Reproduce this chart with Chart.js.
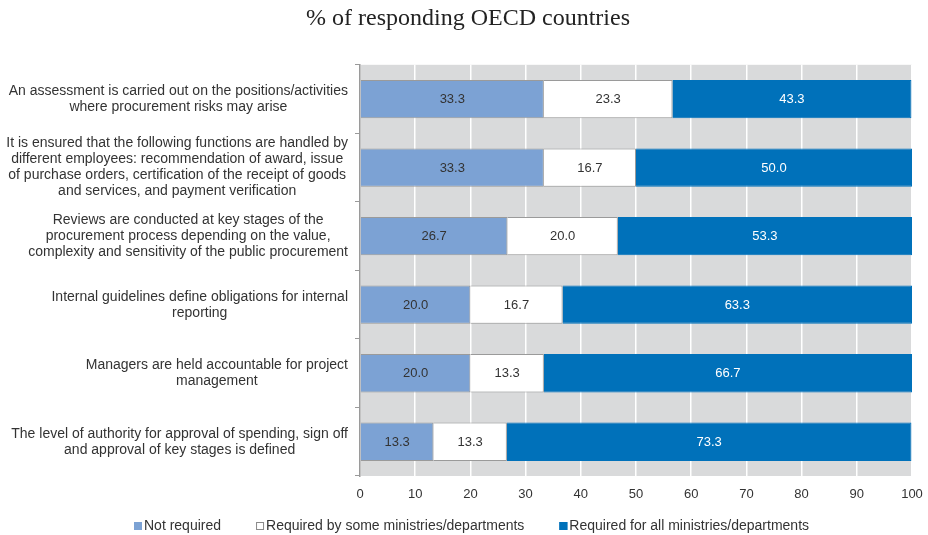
<!DOCTYPE html>
<html>
<head>
<meta charset="utf-8">
<script src="https://cdn.jsdelivr.net/npm/chart.js@4/dist/chart.umd.min.js"></script>
<style>
  html, body { margin: 0; padding: 0; background: #ffffff; }
  #wrap { width: 928px; height: 535px; }
</style>
</head>
<body>
<div id="wrap"><canvas id="c" width="928" height="535"></canvas></div>
<script>
// Survey items (one array of lines per item)
const categories = [
  ["An assessment is carried out on the positions/activities", "where procurement risks may arise"],
  ["It is ensured that the following functions are handled by", "different employees: recommendation of award, issue", "of purchase orders, certification of the receipt of goods", "and services, and payment verification"],
  ["Reviews are conducted at key stages of the", "procurement process depending on the value,", "complexity and sensitivity of the public procurement"],
  ["Internal guidelines define obligations for internal", "reporting"],
  ["Managers are held accountable for project", "management"],
  ["The level of authority for approval of spending, sign off", "and approval of key stages is defined"]
];

const seriesNames = [
  "Not required",
  "Required by some ministries/departments",
  "Required for all ministries/departments"
];

// % of responding OECD countries
const notRequired  = [33.3, 33.3, 26.7, 20.0, 20.0, 13.3];
const someRequired = [23.3, 16.7, 20.0, 16.7, 13.3, 13.3];
const allRequired  = [43.3, 50.0, 53.3, 63.3, 66.7, 73.3];

const xMin = 0, xMax = 100, xStep = 10;

const FONT = "'Liberation Sans', Arial, sans-serif";
const TEXT = "#333333";

// Grey plotting area behind the bars
const plotBackground = {
  id: 'plotBackground',
  beforeDraw(chart) {
    const {ctx, chartArea: a} = chart;
    ctx.save();
    ctx.fillStyle = '#d9dadb';
    ctx.fillRect(a.left, a.top, a.right - a.left, a.bottom - a.top);
    ctx.restore();
  }
};

// Value printed in the middle of every bar segment
const barValues = {
  id: 'barValues',
  afterDatasetsDraw(chart) {
    const {ctx} = chart;
    ctx.save();
    ctx.font = '13px ' + FONT;
    ctx.textAlign = 'center';
    ctx.textBaseline = 'middle';
    chart.data.datasets.forEach((ds, di) => {
      const meta = chart.getDatasetMeta(di);
      meta.data.forEach((bar, i) => {
        const v = ds.data[i];
        const p = bar.getProps(['x', 'y', 'base'], true);
        ctx.fillStyle = ds.valueColor;
        ctx.fillText(v.toFixed(1), (p.x + p.base) / 2, p.y + 0.5);
      });
    });
    ctx.restore();
  }
};

// Multi-line item labels: lines centred on each other, block right-aligned to the axis
const itemLabels = {
  id: 'itemLabels',
  afterDraw(chart) {
    const {ctx} = chart;
    const y = chart.scales.y;
    const rightEdge = y.right - 12;
    const lh = 16;
    ctx.save();
    ctx.font = '14px ' + FONT;
    ctx.fillStyle = TEXT;
    ctx.textAlign = 'center';
    ctx.textBaseline = 'middle';
    chart.data.labels.forEach((lines, i) => {
      const cy = y.getPixelForValue(i);
      const w = Math.max(...lines.map(l => ctx.measureText(l).width));
      const cx = rightEdge - w / 2;
      const y0 = cy - (lines.length - 1) * lh / 2;
      lines.forEach((l, k) => ctx.fillText(l, cx, y0 + k * lh));
    });
    ctx.restore();
  }
};

// Legend row along the bottom
const bottomLegend = {
  id: 'bottomLegend',
  afterDraw(chart) {
    const {ctx} = chart;
    const box = 8, gapText = 2, gapItem = 35, cy = 526, centre = 471.5;
    ctx.save();
    ctx.font = '14px ' + FONT;
    ctx.textBaseline = 'middle';
    ctx.textAlign = 'left';
    const items = chart.data.datasets.map(ds => ({
      ds, w: box + gapText + ctx.measureText(ds.label).width
    }));
    const total = items.reduce((s, it) => s + it.w, 0) + gapItem * (items.length - 1);
    let x = Math.round(centre - total / 2);
    items.forEach(({ds, w}) => {
      ctx.fillStyle = ds.backgroundColor;
      ctx.fillRect(x, cy - box / 2, box, box);
      ctx.strokeStyle = ds.legendBorder;
      ctx.lineWidth = 1;
      ctx.strokeRect(x + 0.5, cy - box / 2 + 0.5, box - 1, box - 1);
      ctx.fillStyle = TEXT;
      ctx.fillText(ds.label, x + box + gapText, cy + 0.5);
      x += w + gapItem;
    });
    ctx.restore();
  }
};

new Chart(document.getElementById('c'), {
  type: 'bar',
  data: {
    labels: categories,
    datasets: [
      { label: seriesNames[0], data: notRequired, backgroundColor: '#7ca2d4',
        borderColor: '#9a9a9a', borderWidth: 1, valueColor: TEXT, legendBorder: '#7ca2d4' },
      { label: seriesNames[1], data: someRequired, backgroundColor: '#ffffff',
        borderColor: '#9a9a9a', borderWidth: 1, valueColor: TEXT, legendBorder: '#8a8a8a' },
      { label: seriesNames[2], data: allRequired, backgroundColor: '#0071ba',
        borderColor: '#0071ba', borderWidth: 1, valueColor: '#ffffff', legendBorder: '#0071ba' }
    ]
  },
  options: {
    indexAxis: 'y',
    responsive: false,
    animation: false,
    devicePixelRatio: 1,
    layout: { padding: { left: 24, right: 16, top: 0, bottom: 29 } },
    datasets: { bar: { categoryPercentage: 1.0, barPercentage: 0.56 } },
    scales: {
      x: {
        stacked: true,
        min: xMin, max: xMax,
        ticks: { stepSize: xStep, color: TEXT, font: { family: FONT, size: 13 }, padding: 4 },
        grid: { color: '#ffffff', lineWidth: 1.5, drawTicks: true, tickLength: 7, tickColor: 'rgba(0,0,0,0)' },
        border: { display: false },
        afterFit(s) { s.height = 30; }
      },
      y: {
        stacked: true,
        ticks: { display: false },
        grid: { offset: true, drawOnChartArea: false, drawTicks: true, tickLength: 5, color: '#9a9a9a' },
        border: { display: true, color: '#9a9a9a', width: 1.5 },
        afterFit(s) { s.width = 336; }
      }
    },
    plugins: {
      legend: { display: false },
      tooltip: { enabled: false },
      title: {
        display: true,
        text: '% of responding OECD countries',
        color: '#222222',
        font: { family: "'Liberation Serif', 'Times New Roman', serif", size: 24, weight: 'normal' },
        padding: { top: 4, bottom: 32 }
      }
    }
  },
  plugins: [plotBackground, barValues, itemLabels, bottomLegend]
});
</script>
</body>
</html>
